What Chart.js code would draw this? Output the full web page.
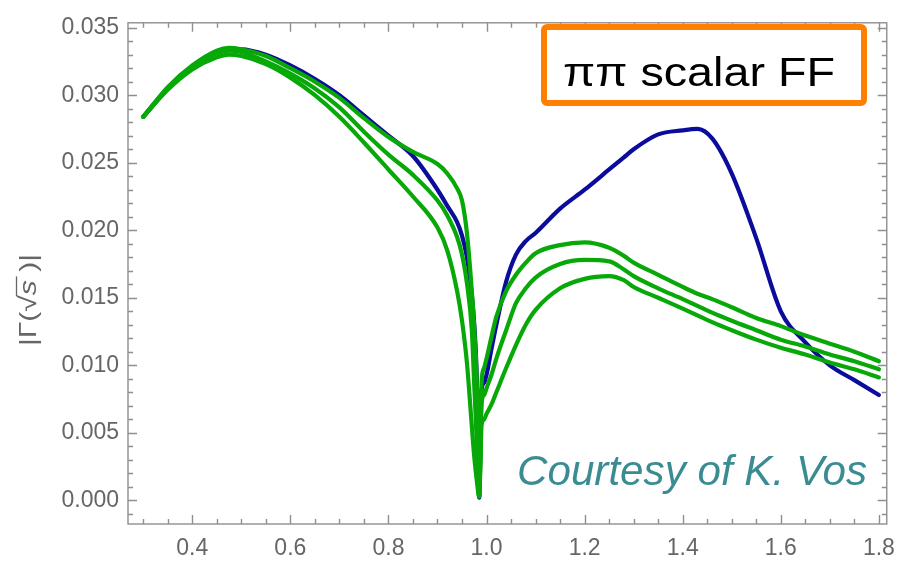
<!DOCTYPE html>
<html>
<head>
<meta charset="utf-8">
<title>pi pi scalar form factor</title>
<script src="https://cdn.jsdelivr.net/npm/chart.js@4.4.1/dist/chart.umd.min.js"></script>
<style>
  html, body { margin: 0; padding: 0; background: #fff; }
  #wrap { width: 906px; height: 562px; }
</style>
</head>
<body>
<div id="wrap"><canvas id="ff-chart" width="906" height="562"></canvas></div>
<script>
////////////////////////////////////////////////////////////////////////////////
// Data
////////////////////////////////////////////////////////////////////////////////

// sqrt(s) sample points, shared by all four curves (denser round the dip)
const sqrtS = [0.30, 0.35, 0.40, 0.45, 0.475, 0.50, 0.55, 0.60, 0.65, 0.70,
               0.75, 0.80, 0.85, 0.90, 0.92, 0.94, 0.95, 0.96, 0.97, 0.975,
               0.98, 0.985, 0.99, 0.995, 1.00, 1.01, 1.02, 1.04, 1.06, 1.08,
               1.10, 1.15, 1.20, 1.25, 1.28, 1.30, 1.35, 1.40, 1.43, 1.46,
               1.50, 1.55, 1.60, 1.65, 1.70, 1.75, 1.80];

// blue curve
const blueCurve = [.0284, .0305, .0321, .0332, .0334, .0334, .0330, .0322, .0312, .0300,
                   .0285, .0270, .0255, .0230, .0218, .0206, .0196, .0180, .0152, .0130,
                   .0092, .0002, .0082, .0087, .0093, .0112, .0130, .0162, .0182, .0192,
                   .0198, .0216, .0230, .0245, .0254, .0260, .0271, .0274, .0275, .0268,
                   .0242, .0194, .0140, .0117, .0100, .0089, .0078];

// green curves (upper / middle / lower band)
const greenUpper = [.0284, .0306, .0322, .0333, .0335, .0334, .0329, .0320, .0310, .0298,
                    .0283, .0269, .0258, .0249, .0242, .0231, .0222, .0198, .0155, .0127,
                    .0090, .0003, .0088, .0098, .0105, .0121, .0136, .0155, .0167, .0176,
                    .0183, .0189, .0191, .0187, .0181, .0176, .0167, .0158, .0153, .0149,
                    .0143, .0135, .0129, .0122, .0116, .0110, .0103];

const greenMid = [.0284, .0305, .0321, .0331, .0333, .0332, .0325, .0316, .0305, .0291,
                  .0273, .0256, .0241, .0222, .0211, .0195, .0182, .0161, .0126, .0085,
                  .0045, .0003, .0072, .0078, .0083, .0093, .0105, .0126, .0146, .0157,
                  .0165, .0175, .0178, .0177, .0171, .0166, .0157, .0149, .0144, .0139,
                  .0133, .0126, .0119, .0114, .0108, .0103, .0097];

const greenLower = [.0284, .0304, .0319, .0328, .0330, .0329, .0323, .0313, .0300, .0284,
                    .0265, .0245, .0225, .0202, .0185, .0155, .0133, .0102, .0055, .0032,
                    .0015, .0003, .0056, .0060, .0064, .0071, .0080, .0098, .0115, .0130,
                    .0141, .0157, .0164, .0166, .0163, .0158, .0150, .0142, .0137, .0132,
                    .0126, .0119, .0113, .0108, .0102, .0097, .0091];

// tick labels
const xTickVals = [0.4, 0.6, 0.8, 1.0, 1.2, 1.4, 1.6, 1.8];
const yTickVals = [0, 0.005, 0.010, 0.015, 0.020, 0.025, 0.030, 0.035];

////////////////////////////////////////////////////////////////////////////////
// Styles
////////////////////////////////////////////////////////////////////////////////

const BLUE = '#0b0b9c';
const GREEN = '#08a808';
const FRAME = '#8f8f8f';
const LABEL = '#666666';
const FONT = "'Liberation Sans', Arial, sans-serif";

// stretch a string horizontally so it covers a given width
function fitText(ctx, text, cx, baseline, width) {
    const w = ctx.measureText(text).width;
    ctx.save();
    ctx.translate(cx, baseline);
    ctx.scale(width / w, 1);
    ctx.textAlign = 'center';
    ctx.fillText(text, 0, 0);
    ctx.restore();
}

// Mathematica-style frame: ticks pointing inward on all four sides
const frameTicks = {
    id: 'frameTicks',
    beforeDatasetsDraw(chart) {
        const { ctx, chartArea: a, scales: { x, y } } = chart;
        ctx.save();
        ctx.strokeStyle = FRAME;
        ctx.lineWidth = 1.4;
        ctx.strokeRect(a.left, a.top, a.right - a.left, a.bottom - a.top);
        ctx.beginPath();
        for (let i = 6; i <= 36; i++) {
            const px = Math.round(x.getPixelForValue(i * 0.05)) + 0.5;
            const len = i % 4 === 0 ? 9 : 5;
            ctx.moveTo(px, a.bottom); ctx.lineTo(px, a.bottom - len);
            ctx.moveTo(px, a.top); ctx.lineTo(px, a.top + len);
        }
        for (let j = -1; j <= 35; j++) {
            const py = Math.round(y.getPixelForValue(j / 1000)) + 0.5;
            const len = j % 5 === 0 ? 9 : 5;
            ctx.moveTo(a.left, py); ctx.lineTo(a.left + len, py);
            ctx.moveTo(a.right, py); ctx.lineTo(a.right - len, py);
        }
        ctx.stroke();
        ctx.restore();
    },
    afterDatasetsDraw(chart) {
        const { ctx } = chart;
        ctx.save();

        // y-axis title |Γ(√s )| with italic s
        ctx.translate(28, 300);
        ctx.rotate(-Math.PI / 2);
        ctx.fillStyle = LABEL;
        ctx.textBaseline = 'alphabetic';
        const parts = [['|Γ(√', '24px ' + FONT], ['s', 'italic 24px ' + FONT], [' )|', '24px ' + FONT]];
        let total = 0;
        parts.forEach(p => { ctx.font = p[1]; total += ctx.measureText(p[0]).width; });
        ctx.scale(92 / total, 1);
        let cx = -total / 2;
        const base = 8;
        let sStart = 0, sEnd = 0;
        parts.forEach((p, k) => {
            ctx.font = p[1];
            ctx.textAlign = 'left';
            ctx.fillText(p[0], cx, base);
            const w = ctx.measureText(p[0]).width;
            if (k === 1) { sStart = cx; sEnd = cx + w + 3; }
            cx += w;
        });
        // radical bar over s
        ctx.strokeStyle = LABEL;
        ctx.lineWidth = 1.3;
        ctx.beginPath();
        ctx.moveTo(sStart - 1, base - 19.5);
        ctx.lineTo(sEnd, base - 19.5);
        ctx.stroke();
        ctx.restore();

        // title box
        ctx.save();
        ctx.fillStyle = '#ffffff';
        ctx.strokeStyle = '#ff7f00';
        ctx.lineWidth = 6;
        ctx.beginPath();
        ctx.roundRect(544, 27, 320, 76, 3);
        ctx.fill();
        ctx.stroke();
        ctx.fillStyle = '#000000';
        ctx.font = '41px ' + FONT;
        fitText(ctx, 'ππ scalar FF', 699, 86, 272);

        // credit line
        ctx.fillStyle = '#3b8c92';
        ctx.font = 'italic 42px ' + FONT;
        fitText(ctx, 'Courtesy of K. Vos', 692, 485, 350);
        ctx.restore();
    }
};

////////////////////////////////////////////////////////////////////////////////
// Chart.JS
////////////////////////////////////////////////////////////////////////////////

const toPoints = ys => sqrtS.map((x, i) => ({ x: x, y: ys[i] }));

const lineStyle = color => ({
    borderColor: color,
    backgroundColor: color,
    borderWidth: 4.2,
    pointRadius: 0,
    fill: false,
    cubicInterpolationMode: 'monotone',
    borderJoinStyle: 'round',
    borderCapStyle: 'round'
});

const ctx = document.getElementById('ff-chart').getContext('2d');

// greens listed first so they are drawn over the blue curve
let ffChart = new Chart(ctx, {
    type: 'line',
    data: {
        datasets: [
            { label: 'upper', data: toPoints(greenUpper), ...lineStyle(GREEN) },
            { label: 'middle', data: toPoints(greenMid), ...lineStyle(GREEN) },
            { label: 'lower', data: toPoints(greenLower), ...lineStyle(GREEN) },
            { label: 'blue', data: toPoints(blueCurve), ...lineStyle(BLUE) }
        ]
    },
    options: {
        responsive: false,
        animation: false,
        devicePixelRatio: 1,
        layout: { padding: { left: 0, top: 15, right: 10, bottom: 0 } },
        plugins: {
            legend: { display: false },
            tooltip: { enabled: false }
        },
        scales: {
            x: {
                type: 'linear',
                min: 0.269,
                max: 1.816,
                grid: { display: false, drawTicks: false },
                border: { display: false },
                afterBuildTicks: s => { s.ticks = xTickVals.map(v => ({ value: v })); },
                afterFit: s => { s.height = 38; },
                ticks: {
                    autoSkip: false,
                    maxRotation: 0,
                    padding: 11,
                    color: LABEL,
                    font: { family: FONT, size: 23 },
                    callback: v => v.toFixed(1)
                }
            },
            y: {
                type: 'linear',
                min: -0.00175,
                max: 0.03536,
                grid: { display: false, drawTicks: false },
                border: { display: false },
                afterBuildTicks: s => { s.ticks = yTickVals.map(v => ({ value: v })); },
                afterFit: s => { s.width = 128; },
                ticks: {
                    autoSkip: false,
                    padding: 9,
                    color: LABEL,
                    font: { family: FONT, size: 23 },
                    callback: v => v.toFixed(3)
                }
            }
        }
    },
    plugins: [frameTicks]
});
</script>
</body>
</html>
